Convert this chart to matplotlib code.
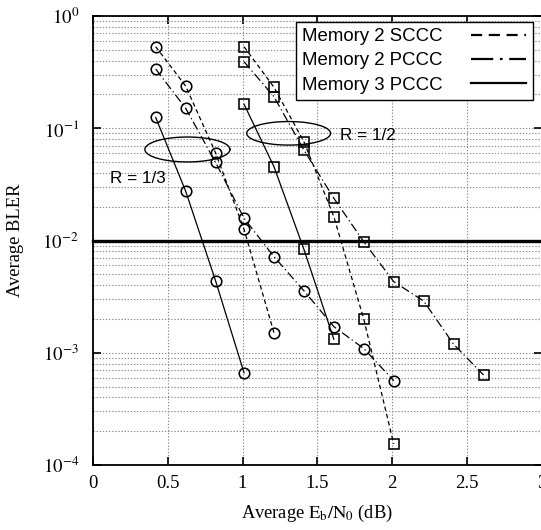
import numpy as np
import matplotlib
matplotlib.use("Agg")
import matplotlib.pyplot as plt
from matplotlib.lines import Line2D
from matplotlib.ticker import LogLocator, FixedLocator, FuncFormatter

plt.rcParams['font.family'] = ['Liberation Serif', 'DejaVu Serif']
plt.rcParams['mathtext.fontset'] = 'stix'

# ---- data ----
ebn0_r13 = [0.42, 0.62, 0.82, 1.01, 1.21, 1.41, 1.61, 1.81, 2.01]
ebn0_r12 = [1.01, 1.21, 1.41, 1.61, 1.81, 2.01, 2.21, 2.41, 2.61]

r13_m3_pccc = [0.125, 0.0276, 0.00438, 0.000664]
r13_m2_sccc = [0.533, 0.238, 0.0605, 0.0126, 0.00151]
r13_m2_pccc = [0.337, 0.151, 0.0497, 0.0158, 0.00718, 0.00357, 0.00171, 0.00109, 0.000564]

r12_m3_pccc = [0.164, 0.0455, 0.00835, 0.00132]
r12_m2_sccc = [0.533, 0.232, 0.0759, 0.0163, 0.00199, 0.000154]
r12_m2_pccc = [0.392, 0.191, 0.064, 0.0238, 0.00973, 0.0043, 0.00289, 0.00119, 0.000634]

legend_labels = ['Memory 2 SCCC', 'Memory 2 PCCC', 'Memory 3 PCCC']
target_bler = 1e-2
x_ticks = [0, 0.5, 1, 1.5, 2, 2.5, 3]

# ---- figure ----
fig = plt.figure(figsize=(5.41, 5.30), dpi=100)
ax = fig.add_axes([0.1715, 0.1226, 0.8303, 0.8472])

DASHED = (0, (3.5, 2.5))
DASHDOT = (0, (7, 2.5, 1, 2.5))
SOLID = '-'
lw = 0.9
mk = dict(mfc='none', mec='black', mew=1.15, ms=7.6, color='black', lw=lw)

def series(x, y, ls, marker):
    ax.plot(x[:len(y)], y, linestyle=ls, marker=marker, zorder=4, **mk)

series(ebn0_r13, r13_m3_pccc, SOLID, 'o')
series(ebn0_r13, r13_m2_sccc, DASHED, 'o')
series(ebn0_r13, r13_m2_pccc, DASHDOT, 'o')
series(ebn0_r12, r12_m3_pccc, SOLID, 's')
series(ebn0_r12, r12_m2_sccc, DASHED, 's')
series(ebn0_r12, r12_m2_pccc, DASHDOT, 's')

ax.axhline(target_bler, color='black', lw=2.4, zorder=3, clip_on=False)

# ellipses (annotation groups) in log space
t = np.linspace(0, 2 * np.pi, 200)
for cx, a, ly, b in [(0.632, 0.284, -1.189, 0.111), (1.308, 0.280, -1.045, 0.105)]:
    ax.plot(cx + a * np.cos(t), 10 ** (ly + b * np.sin(t)), color='black', lw=1.0, zorder=4)

ax.text(0.115, 0.036, 'R = 1/3', family='Liberation Sans', fontsize=12.3, va='center', ha='left')
ax.text(1.652, 0.087, 'R = 1/2', family='Liberation Sans', fontsize=12.3, va='center', ha='left')

ax.set_yscale('log')
ax.set_xlim(0, 3)
ax.set_ylim(1e-4, 1)
ax.xaxis.set_major_locator(FixedLocator(x_ticks))
ax.xaxis.set_major_formatter(FuncFormatter(lambda v, p: ('%g' % v)))
ax.yaxis.set_major_locator(LogLocator(base=10, numticks=10))
ax.yaxis.set_minor_locator(LogLocator(base=10, subs=np.arange(2, 10), numticks=20))
ax.yaxis.set_major_formatter(FuncFormatter(lambda v, p: r'$10^{%d}$' % int(round(np.log10(v)))))

ax.grid(True, which='major', axis='both', color='#8a8a8a', lw=0.8, linestyle=(0, (1.2, 1.6)), zorder=1)
ax.grid(True, which='minor', axis='y', color='#8a8a8a', lw=0.8, linestyle=(0, (1.2, 1.6)), zorder=1)

ax.tick_params(which='major', direction='in', length=6, width=1.2, top=True, right=True, labelsize=13.5, pad=7)
ax.tick_params(axis='y', which='major', pad=10)
ax.tick_params(which='minor', length=0)
for s in ax.spines.values():
    s.set_linewidth(1.3)

ax.set_xlabel(r'Average $\mathrm{E_b/N_0}$ (dB)', fontsize=13.3, labelpad=8)
ax.set_ylabel('Average BLER', fontsize=13.3, labelpad=13)

handles = [Line2D([], [], color='black', lw=1.6, linestyle=(0, (5, 3))),
           Line2D([], [], color='black', lw=1.6, linestyle=(0, (10, 3, 1.2, 3))),
           Line2D([], [], color='black', lw=1.6, linestyle='-')]
leg = ax.legend(handles, legend_labels, loc='upper right', bbox_to_anchor=(0.98, 0.987),
                borderaxespad=0, markerfirst=False, handlelength=3.0, fancybox=False,
                frameon=True, prop={'family': 'Liberation Sans', 'size': 13.4},
                labelspacing=0.38, borderpad=0.35, handletextpad=1.5)
leg.get_frame().set_edgecolor('black')
leg.get_frame().set_linewidth(1.0)
leg.get_frame().set_alpha(1)
leg.set_zorder(6)

fig.savefig('out.png', dpi=100)
